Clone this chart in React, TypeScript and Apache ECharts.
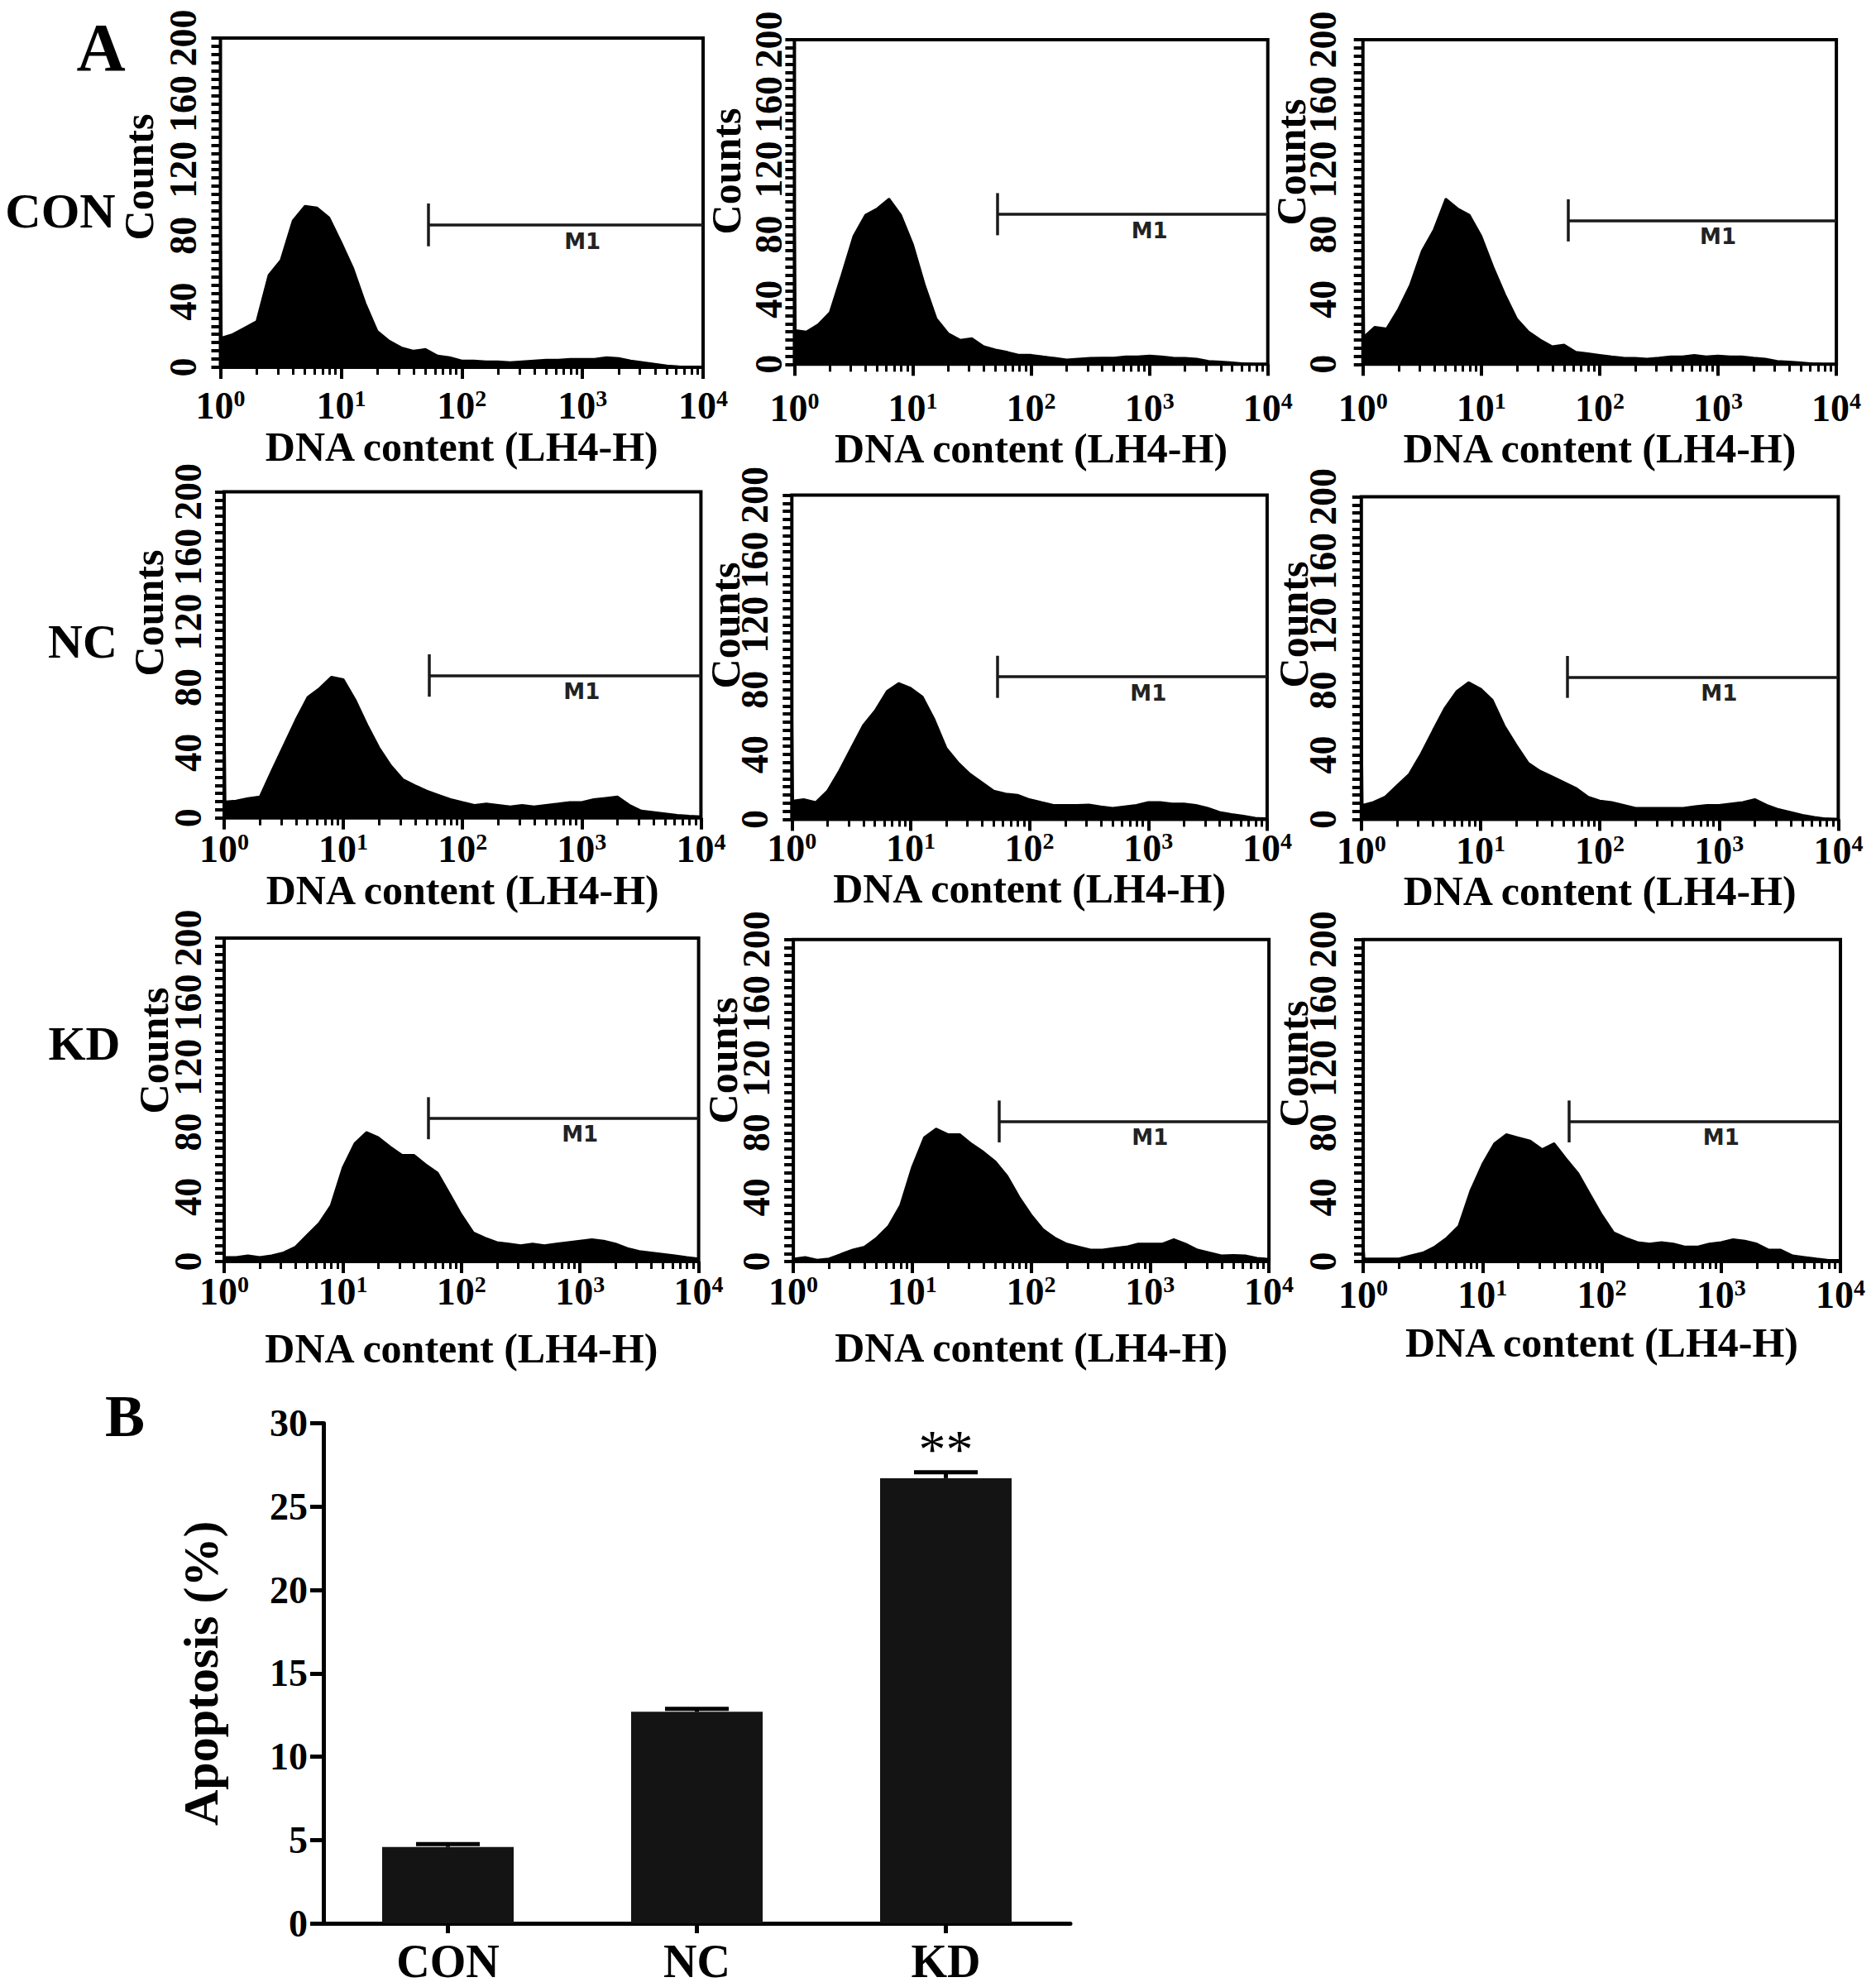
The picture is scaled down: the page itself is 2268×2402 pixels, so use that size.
import React, { useEffect, useRef } from 'react';
import * as echarts from 'echarts';

const SERIF = "'Liberation Serif', 'Times New Roman', serif";

// log10(DNA content) positions at which the histogram counts were read
const LOG_DNA = [0, 0.01, 0.1, 0.2, 0.3, 0.4, 0.5, 0.6, 0.7, 0.8, 0.9, 1.0,
  1.1, 1.2, 1.3, 1.4, 1.5, 1.6, 1.7, 1.8, 1.9, 2.0,
  2.1, 2.2, 2.3, 2.4, 2.5, 2.6, 2.7, 2.8, 2.9, 3.0,
  3.1, 3.2, 3.3, 3.4, 3.5, 3.6, 3.7, 3.8, 3.9, 4.0];

// Counts per panel (row: group, column: replicate)
const CON_1 = [113, 18, 20, 24, 28, 56, 65, 89, 98, 97, 91, 76,
  60, 39, 22, 16, 12, 10, 11, 7, 6, 4,
  4, 3.5, 3.5, 3, 3.5, 4, 4.5, 4.5, 5, 5,
  5, 6, 5.5, 4, 3, 2, 1, 0.5, 0.3, 0];
const CON_2 = [109, 21, 20, 24.5, 32, 55, 79, 92, 96, 102, 92, 74,
  49, 28, 19, 15, 16, 11, 9, 7.5, 5.7, 5.7,
  4.7, 3.8, 2.8, 3.4, 3.8, 4, 4, 4.7, 4.7, 5.3,
  4.7, 4, 3.8, 3.4, 2, 1.5, 1, 0.4, 0, 0];
const CON_3 = [109, 17, 23, 22, 34, 49, 70, 83, 102, 96, 92, 79,
  60, 43, 28, 20, 15, 11, 12, 7.5, 6.6, 5.7,
  4.7, 4, 3.8, 3.4, 4, 4.7, 4.7, 5.7, 4.7, 5.3,
  4.7, 4.7, 4, 3.4, 1.9, 1.5, 1, 0.4, 0, 0];
const NC_1 = [90, 10, 10.5, 12, 13, 29, 44.5, 60, 74, 79.5, 86.5, 85,
  72.5, 57, 43, 32, 23.6, 20, 16.6, 14, 11.4, 9.6,
  7.9, 8.7, 7.9, 7, 7.9, 7, 7.9, 8.7, 9.6, 9.6,
  11.4, 12.2, 13, 7.9, 4.4, 3.5, 2.6, 1.7, 1.2, 0.8];
const NC_2 = [84, 11.4, 12.3, 10.5, 17.6, 30, 44, 58, 67, 79, 84, 81,
  75.6, 61.5, 44, 35, 28, 22.8, 17.6, 15.8, 15, 12.3,
  10.5, 8.8, 8.8, 8.8, 9, 7.9, 7, 7.9, 8.8, 10.5,
  10.5, 9.7, 9.7, 8.8, 7, 4.4, 3.2, 2.1, 0.9, 0.4];
const NC_3 = [88, 8.8, 10.6, 14, 21, 28, 40.6, 55, 69, 79.5, 85, 81,
  74, 58, 46, 35, 30, 26.5, 23, 19.4, 14, 11.5,
  10.6, 8.8, 7, 7, 7, 7, 7, 8, 8.8, 8.8,
  9.7, 10.6, 12.4, 8.8, 6.2, 4.4, 2.6, 1.4, 0.4, 0];
const KD_1 = [2.7, 2.7, 2.7, 3.7, 2.7, 3.7, 5.5, 9, 16.4, 23.7, 34.7, 58,
  73, 80, 76.7, 71, 65.8, 65.8, 60, 54.8, 42, 29,
  18, 14.6, 11.9, 11, 10, 11, 10, 11, 11.9, 12.8,
  13.7, 12.8, 11, 8.2, 6.4, 5.5, 4.6, 3.7, 2.7, 1.8];
const KD_2 = [1.8, 1.8, 2.75, 1, 1.8, 4.6, 7.3, 9.2, 14.7, 22, 34.9, 58.7,
  77, 82.5, 79, 79, 73, 68, 62, 53, 40, 29,
  20, 14.7, 11, 9.2, 7.3, 7.3, 8.3, 9.2, 11, 11,
  11, 13.8, 11, 7.3, 5.5, 3.7, 4, 3.7, 2.2, 1.5];
const KD_3 = [13, 1.8, 1.8, 1.8, 1.8, 3.7, 5.5, 9.2, 14.7, 22, 44, 60.5,
  73.4, 79, 77, 75, 69.7, 73.4, 64, 55, 42, 29,
  18, 14.7, 12, 11, 12, 11, 9.2, 9.2, 11, 12,
  13.8, 12.8, 11, 7.3, 7.3, 3.7, 2.75, 1.8, 0.9, 0.9];

const HIST_COUNTS = [CON_1, CON_2, CON_3, NC_1, NC_2, NC_3, KD_1, KD_2, KD_3];
const ROW_LABELS = ['CON', 'NC', 'KD'];

// M1 gate: start (log10) and level (counts)
const GATE_START = [1.72, 1.716, 1.73, 1.72, 1.73, 1.73, 1.72, 1.733, 1.725];
const GATE_LEVEL = [86.5, 92.5, 88.7, 87.3, 87.9, 88.3, 88.6, 87, 87];

// Panel B
const GROUPS = ['CON', 'NC', 'KD'];
const APOPTOSIS = [4.58, 12.69, 26.71];
const APOPTOSIS_ERR = [0.17, 0.18, 0.35];
const SIGNIFICANCE = ['', '', '**'];

// Layout (pixels): [left, right, top, bottom] of each histogram frame
const PANELS = [
  [266.5, 850, 46, 444],
  [960.4, 1532.7, 48.1, 440.3],
  [1647.7, 2220.1, 48.1, 440.3],
  [271, 847.4, 594.4, 988.7],
  [957.3, 1531.9, 598.6, 990.4],
  [1645.8, 2222.4, 600.6, 990.4],
  [271, 844.6, 1133.9, 1525],
  [959.1, 1534.1, 1135.7, 1525],
  [1648, 2225, 1135.7, 1525],
];
const Y_LABEL_MARGIN = [22, 8, 25, 21, 22, 23, 21, 22, 26];
const X_LABEL_MARGIN = [23, 30, 30, 15, 12, 15, 13, 13, 17];
const X_NAME_GAP = [71, 76, 77, 56, 58, 58, 80, 79, 73];
const COUNTS_POS = [
  [168, 214], [878, 207], [1561, 196],
  [180, 741], [877, 756], [1564, 755],
  [186, 1270], [874, 1282], [1564, 1286],
];
const ROW_LABEL_POS = [[73, 255], [100, 775], [102, 1261]];

const MINOR_X = [0, 1, 2, 3].flatMap((k) => [2, 3, 4, 5, 6, 7, 8, 9].map((m) => k + Math.log10(m)));

function buildOption() {
  const grid: any[] = [];
  const xAxis: any[] = [];
  const yAxis: any[] = [];
  const series: any[] = [];
  const graphic: any[] = [];

  PANELS.forEach((p, i) => {
    const [L, R, T, B] = p;
    grid.push({
      left: L, top: T, width: R - L, height: B - T,
      show: true, borderColor: '#000', borderWidth: 4, backgroundColor: 'transparent',
      containLabel: false, outerBoundsMode: 'none',
    });
    xAxis.push({
      type: 'value', gridIndex: i, position: 'bottom', min: 0, max: 4, interval: 1,
      name: 'DNA content (LH4-H)', nameLocation: 'middle', nameGap: X_NAME_GAP[i],
      nameTextStyle: { fontFamily: SERIF, fontWeight: 'bold', fontSize: 50, color: '#000', lineHeight: 50 },
      axisLine: { show: false },
      axisTick: { show: true, length: 14, lineStyle: { color: '#000', width: 4 } },
      splitLine: { show: false },
      axisLabel: {
        margin: X_LABEL_MARGIN[i],
        formatter: (v: number) => (Math.abs(v - Math.round(v)) < 1e-6 ? `{b|10}{s|${Math.round(v)}}` : ''),
        rich: {
          b: { fontSize: 46, fontWeight: 'bold', fontFamily: SERIF, color: '#000' },
          s: { fontSize: 28, fontWeight: 'bold', fontFamily: SERIF, color: '#000', verticalAlign: 'top' },
        },
      },
    });
    xAxis.push({
      type: 'value', gridIndex: i, position: 'bottom', min: 0, max: 4,
      axisLine: { show: false }, axisLabel: { show: false }, splitLine: { show: false },
      axisTick: { show: true, length: 9, customValues: MINOR_X, lineStyle: { color: '#000', width: 3 } },
    });
    yAxis.push({
      type: 'value', gridIndex: i, min: 0, max: 200, interval: 40,
      axisLine: { show: false },
      axisTick: { show: true, length: 11, lineStyle: { color: '#000', width: 4 } },
      minorTick: { show: true, splitNumber: 8, length: 11, lineStyle: { color: '#000', width: 4 } },
      splitLine: { show: false }, minorSplitLine: { show: false },
      axisLabel: { rotate: 90, margin: Y_LABEL_MARGIN[i], fontSize: 46, fontWeight: 'bold', fontFamily: SERIF, color: '#000' },
    });
    const gx = GATE_START[i];
    const gy = GATE_LEVEL[i];
    series.push({
      type: 'line', xAxisIndex: 2 * i, yAxisIndex: i,
      data: LOG_DNA.map((x, k) => [x, HIST_COUNTS[i][k]]),
      symbol: 'none', silent: true,
      lineStyle: { color: '#000', width: 2.5 },
      areaStyle: { color: '#000', opacity: 1 },
      markLine: {
        silent: true, symbol: ['none', 'none'], animation: false,
        lineStyle: { color: '#1a1a1a', width: 3.5, type: 'solid' },
        label: { show: false },
        data: [
          [{ coord: [gx, gy] }, { coord: [4, gy] }],
          [{ coord: [gx, gy + 13] }, { coord: [gx, gy - 13] }],
        ],
      },
      markPoint: {
        silent: true, symbol: 'rect', symbolSize: 1, animation: false,
        itemStyle: { color: 'rgba(0,0,0,0)' },
        label: { show: true, position: 'inside', formatter: 'M1', fontFamily: "'DejaVu Sans', sans-serif", fontWeight: 'bold', fontSize: 26, color: '#222' },
        data: [{ coord: [3.0, gy - 10] }],
      },
    });
    graphic.push({
      type: 'text', x: COUNTS_POS[i][0], y: COUNTS_POS[i][1], rotation: Math.PI / 2,
      style: { text: 'Counts', fontFamily: SERIF, fontWeight: 'bold', fontSize: 50, fill: '#000', align: 'center', verticalAlign: 'middle' },
    });
  });

  ROW_LABELS.forEach((t, r) => {
    graphic.push({
      type: 'text', x: ROW_LABEL_POS[r][0], y: ROW_LABEL_POS[r][1],
      style: { text: t, fontFamily: SERIF, fontWeight: 'bold', fontSize: r === 0 ? 60 : 58, fill: '#000', align: 'center', verticalAlign: 'middle' },
    });
  });
  graphic.push({
    type: 'text', x: 122, y: 57,
    style: { text: 'A', fontFamily: SERIF, fontWeight: 'bold', fontSize: 82, fill: '#000', align: 'center', verticalAlign: 'middle' },
  });
  graphic.push({
    type: 'text', x: 151, y: 1712,
    style: { text: 'B', fontFamily: SERIF, fontWeight: 'bold', fontSize: 72, fill: '#000', align: 'center', verticalAlign: 'middle' },
  });

  // Panel B bar chart
  const bi = PANELS.length;
  grid.push({ left: 391, top: 1720.6, width: 903, height: 604.4, containLabel: false, outerBoundsMode: 'none' });
  xAxis.push({
    type: 'category', gridIndex: bi, data: GROUPS,
    axisLine: { show: true, lineStyle: { color: '#000', width: 5 } },
    axisTick: { show: true, alignWithLabel: true, length: 12, lineStyle: { color: '#000', width: 5 } },
    axisLabel: { margin: 18, fontSize: 56, lineHeight: 56, fontWeight: 'bold', fontFamily: SERIF, color: '#000' },
    splitLine: { show: false },
  });
  yAxis.push({
    type: 'value', gridIndex: bi, min: 0, max: 30, interval: 5,
    name: 'Apoptosis (%)', nameLocation: 'middle', nameGap: 118, nameRotate: 90,
    nameTextStyle: { fontFamily: SERIF, fontWeight: 'bold', fontSize: 60, color: '#000' },
    axisLine: { show: true, lineStyle: { color: '#000', width: 5 } },
    axisTick: { show: true, length: 16, lineStyle: { color: '#000', width: 5 } },
    splitLine: { show: false },
    axisLabel: { margin: 19, fontSize: 46, fontWeight: 'bold', fontFamily: SERIF, color: '#000' },
  });
  series.push({
    type: 'bar', xAxisIndex: 2 * bi, yAxisIndex: bi, barWidth: 159,
    itemStyle: { color: '#141414' },
    data: APOPTOSIS.map((v, i) => (SIGNIFICANCE[i]
      ? { value: v, label: { show: true, position: 'top', distance: 2, formatter: SIGNIFICANCE[i], fontFamily: SERIF, fontSize: 66, color: '#000' } }
      : v)),
  });
  series.push({
    type: 'custom', xAxisIndex: 2 * bi, yAxisIndex: bi, z: 3,
    data: APOPTOSIS.map((v, i) => [i, v, v + APOPTOSIS_ERR[i]]),
    renderItem: (params: any, api: any) => {
      const base = api.coord([api.value(0), api.value(1)]);
      const top = api.coord([api.value(0), api.value(2)]);
      const half = api.size([1, 0])[0] * 0.128;
      return {
        type: 'group',
        children: [
          { type: 'line', shape: { x1: base[0], y1: base[1], x2: top[0], y2: top[1] }, style: { stroke: '#000', lineWidth: 5 } },
          { type: 'line', shape: { x1: top[0] - half, y1: top[1], x2: top[0] + half, y2: top[1] }, style: { stroke: '#000', lineWidth: 5 } },
        ],
      };
    },
  });

  return {
    animation: false,
    backgroundColor: '#fff',
    grid, xAxis, yAxis, series, graphic,
  };
}

export default function App() {
  const ref = useRef<HTMLDivElement>(null);
  useEffect(() => {
    document.body.style.margin = '0';
    document.documentElement.style.overflow = 'hidden';
    if (!ref.current) return;
    const chart = echarts.init(ref.current, undefined, { renderer: 'svg' });
    chart.setOption(buildOption() as any);
    return () => chart.dispose();
  }, []);
  return <div ref={ref} style={{ width: 2268, height: 2402 }} />;
}
